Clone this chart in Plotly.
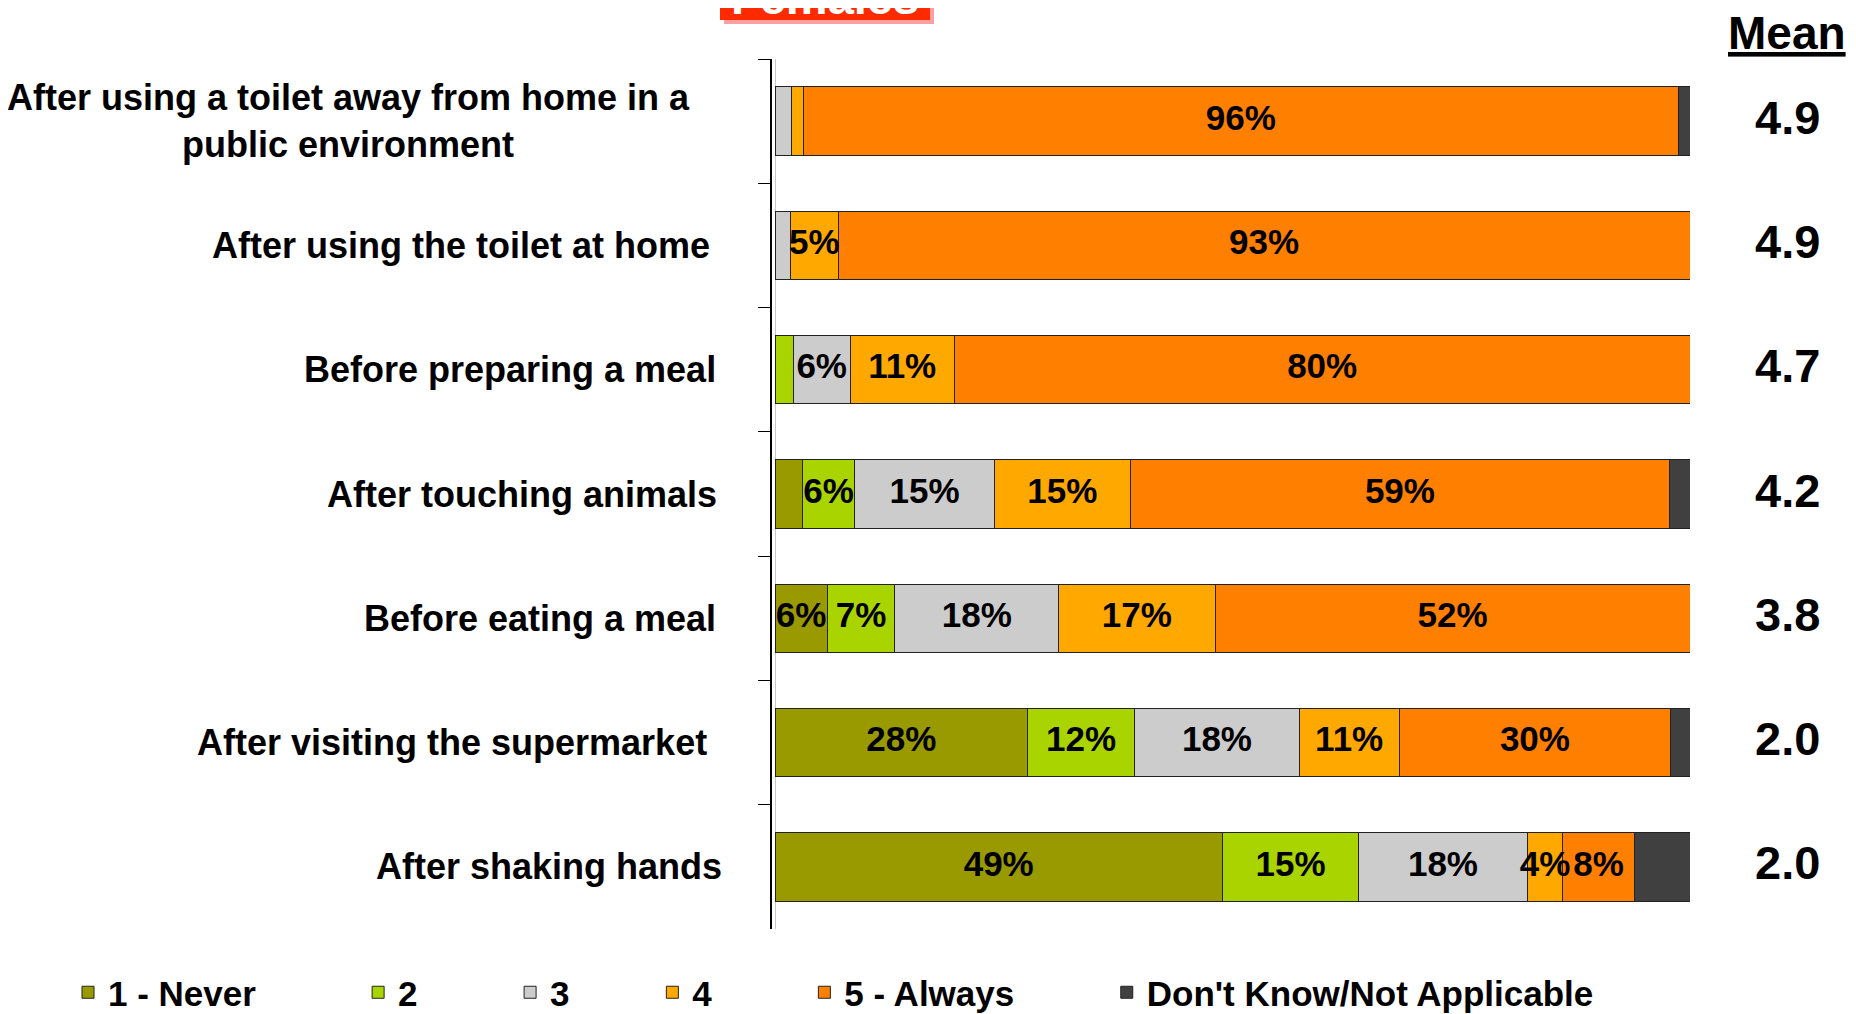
import plotly.graph_objects as go

# ---------------- data ----------------
categories = [
    "After using a toilet away from home in a<br>public environment",
    "After using the toilet at home",
    "Before preparing a meal",
    "After touching animals",
    "Before eating a meal",
    "After visiting the supermarket",
    "After shaking hands",
]
series_names = ["1 - Never", "2", "3", "4", "5 - Always", "Don't Know/Not Applicable"]
never = [0, 0, 0, 3.0, 5.7, 27.6, 48.9]
two = [0, 0, 2.0, 5.7, 7.4, 11.7, 14.9]
three = [1.8, 1.7, 6.2, 15.3, 17.9, 18.0, 18.4]
four = [1.3, 5.2, 11.4, 14.8, 17.1, 10.9, 3.9]
always = [95.6, 93.1, 80.4, 59.0, 51.9, 29.7, 7.8]
dont_know = [1.3, 0, 0, 2.2, 0, 2.1, 6.1]
means = [4.9, 4.9, 4.7, 4.2, 3.8, 2.0, 2.0]

# ---------------- style / layout (screen pixel targets) ----------------
colors = ["#999900", "#AAD400", "#CCCCCC", "#FFA800", "#FF7F00", "#404040"]
legend_pad = [10, 9, 8, 9, 9, 0]
label_right_px = [692, 712, 718, 719, 718, 709, 724]
FONT = "Liberation Sans, Arial, sans-serif"

OFF = 8                      # default page body margin
W, H = 1856 - OFF, 1014 - OFF
PLOT_L, PLOT_R, PLOT_T, PLOT_B = 772, 1690, 59, 929   # screen coords
L = PLOT_L - OFF
T = PLOT_T - OFF
R = W - (PLOT_R - OFF)
B = H - (PLOT_B - OFF)
plot_w = PLOT_R - PLOT_L
plot_h = PLOT_B - PLOT_T


def px_x(sx):
    return (sx - PLOT_L) / plot_w


def px_y(sy):
    return (PLOT_B - sy) / plot_h


all_series = [never, two, three, four, always, dont_know]

fig = go.Figure()
for name, vals, col, pad in zip(series_names, all_series, colors, legend_pad):
    fig.add_trace(go.Bar(
        y=categories, x=vals, orientation="h", name=name + "\u00a0" * pad,
        marker=dict(color=col, line=dict(color="#222222", width=1)),
        width=0.55, hoverinfo="x+y",
    ))

# segment labels (centres computed from cumulative sums)
lab_x, lab_y, lab_t = [], [], []
for i, cat in enumerate(categories):
    left = 0.0
    for s, vals in enumerate(all_series):
        v = vals[i]
        if s < 5 and v >= 3.5:
            lab_x.append(left + v / 2)
            lab_y.append(cat)
            lab_t.append(f"{round(v)}%")
        left += v
fig.add_trace(go.Scatter(
    x=lab_x, y=lab_y, text=lab_t, mode="text", showlegend=False,
    textfont=dict(family=FONT, size=35, color="black", weight=700),
    cliponaxis=False, hoverinfo="skip",
))

annotations = []
for cat, rpx in zip(categories, label_right_px):
    annotations.append(dict(
        x=px_x(rpx), xref="paper", y=cat, yref="y",
        text=cat, showarrow=False, xanchor="right", yanchor="middle", align="center",
        font=dict(family=FONT, size=36, color="black", weight=700),
    ))
annotations.append(dict(
    x=px_x(1787), xref="paper", y=px_y(33), yref="paper",
    text="<u>Mean</u>", showarrow=False, xanchor="center", yanchor="middle",
    font=dict(family=FONT, size=46, color="black", weight=700),
))
for cat, m in zip(categories, means):
    annotations.append(dict(
        x=px_x(1787), xref="paper", y=cat, yref="y", yshift=4,
        text=f"{m:.1f}", showarrow=False, xanchor="center", yanchor="middle",
        font=dict(family=FONT, size=47, color="black", weight=700),
    ))
annotations.append(dict(
    x=px_x(825), xref="paper", y=px_y(-2), yref="paper",
    text="Females", showarrow=False, xanchor="center", yanchor="middle",
    font=dict(family=FONT, size=47, color="white", weight=700),
))

shapes = [
    dict(type="rect", xref="paper", yref="paper",
         x0=px_x(724), x1=px_x(934), y0=px_y(24), y1=px_y(-80),
         fillcolor="#FF9F9F", line=dict(width=0), layer="below"),
    dict(type="rect", xref="paper", yref="paper",
         x0=px_x(720), x1=px_x(930), y0=px_y(20), y1=px_y(-80),
         fillcolor="#FF2A00", line=dict(width=0), layer="below"),
]

fig.update_layout(
    width=W, height=H, barmode="stack",
    margin=dict(l=L, r=R, t=T, b=B, autoexpand=False),
    plot_bgcolor="white", paper_bgcolor="white",
    font=dict(family=FONT, color="black"),
    annotations=annotations, shapes=shapes,
    legend=dict(
        orientation="h", xref="paper", yref="paper", traceorder="normal",
        x=px_x(68), y=px_y(1022), xanchor="left", yanchor="bottom",
        font=dict(family=FONT, size=35, color="black", weight=700),
        itemclick=False, itemdoubleclick=False, bgcolor="rgba(0,0,0,0)",
    ),
    showlegend=True,
)
fig.update_xaxes(range=[-0.33, 100], showticklabels=False, showgrid=False,
                 zeroline=True, zerolinecolor="#C8C8C8", zerolinewidth=1, fixedrange=True)
fig.update_yaxes(type="category", categoryorder="array", categoryarray=categories,
                 range=[6.5, -0.5], showticklabels=False, showgrid=False,
                 showline=True, linecolor="black", linewidth=1.5,
                 ticks="outside", tickson="boundaries", ticklen=12,
                 tickcolor="black", tickwidth=1, fixedrange=True)

fig.write_html("out.html")
